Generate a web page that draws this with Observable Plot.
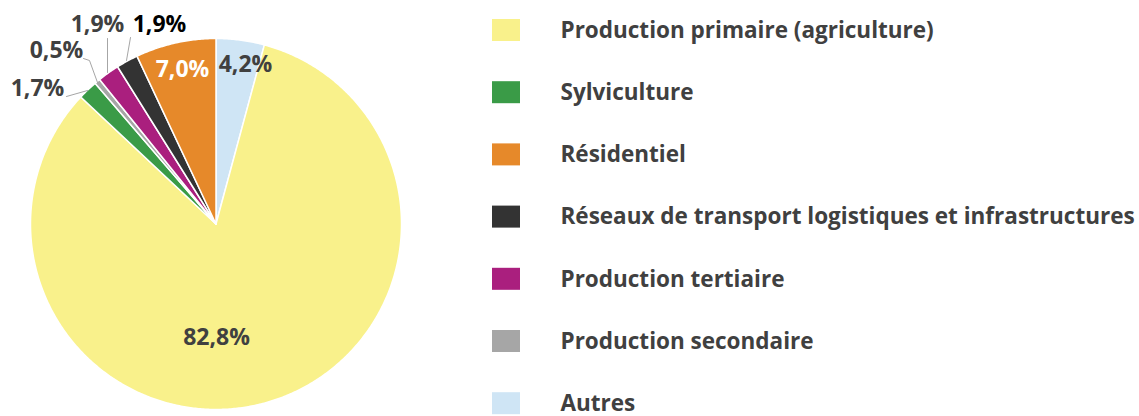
<!DOCTYPE html>
<html><head><meta charset="utf-8">
<script src="https://cdn.jsdelivr.net/npm/d3@7"></script>
<script src="https://cdn.jsdelivr.net/npm/@observablehq/plot@0.6"></script>
<style>
body{margin:0;background:#fff;}
#chart{width:1139px;height:416px;}
</style>
</head><body><div id="chart"></div>
<script>
// ---- data (clockwise from 12 o'clock) ----
const categories = ["Autres","Production primaire (agriculture)","Sylviculture","Production secondaire","Production tertiaire","Réseaux de transport logistiques et infrastructures","Résidentiel"];
const values = [4.2, 82.8, 1.7, 0.5, 1.9, 1.9, 7.0];
const colors = ["#CFE5F5","#F9F18B","#3A9B47","#A6A6A6","#AA1F7E","#333333","#E6892A"];
const legendOrder = ["Production primaire (agriculture)","Sylviculture","Résidentiel","Réseaux de transport logistiques et infrastructures","Production tertiaire","Production secondaire","Autres"];

// ---- layout ----
const W = 1139, H = 416, cx = 215.5, cy = 223.5, R = 185.5;
const ux = px => (px - cx) / R, uy = py => (cy - py) / R;
// label anchor (pixels), text colour, leader polyline (pixels)
const labelLayout = {
  "Autres": {x:245, y:64, color:"#404040"},
  "Production primaire (agriculture)": {x:216, y:337, color:"#404040"},
  "Sylviculture": {x:37, y:88, color:"#404040", leader:[[66,96],[87,90]]},
  "Production secondaire": {x:56, y:50, color:"#404040", leader:[[83,58],[89,60],[97,82]]},
  "Production tertiaire": {x:97, y:24, color:"#404040", leader:[[107,38],[107,72]]},
  "Réseaux de transport logistiques et infrastructures": {x:159, y:24, color:"#000000", leader:[[130,37],[126,60]]},
  "Résidentiel": {x:182, y:69, color:"#FFFFFF"}
};

// ---- wedge geometry from values ----
const total = d3.sum(values);
const wedgePts = [];
let acc = 0;
categories.forEach((name, i) => {
  const a0 = acc / total * 2 * Math.PI;
  acc += values[i];
  const a1 = acc / total * 2 * Math.PI;
  const n = Math.max(2, Math.ceil((a1 - a0) / (Math.PI / 360)));
  wedgePts.push({name, x: 0, y: 0});
  for (let k = 0; k <= n; k++) {
    const a = a0 + (a1 - a0) * k / n;
    wedgePts.push({name, x: Math.sin(a), y: Math.cos(a)});
  }
});

const labels = categories.map((name, i) => ({
  name,
  text: values[i].toFixed(1).replace(".", ",") + "%",
  x: ux(labelLayout[name].x), y: uy(labelLayout[name].y),
  color: labelLayout[name].color
}));
const leaders = [];
categories.forEach(name => {
  const l = labelLayout[name].leader;
  if (l) l.forEach(([px, py]) => leaders.push({name, x: ux(px), y: uy(py)}));
});

// legend rows
const legRows = legendOrder.map((name, i) => ({name, cy: 30 + i * 62.2}));

const plot = Plot.plot({
  width: W, height: H, margin: 0,
  style: {background: "#fff", overflow: "visible"},
  x: {domain: [-1, 1], range: [cx - R, cx + R], axis: null},
  y: {domain: [-1, 1], range: [cy + R, cy - R], axis: null},
  color: {domain: categories, range: colors},
  marks: [
    Plot.line(wedgePts, {x: "x", y: "y", z: "name", fill: "name", stroke: "white", strokeWidth: 1.5, strokeLinejoin: "round", curve: "linear-closed"}),
    Plot.line(leaders, {x: "x", y: "y", z: "name", stroke: "#A6A6A6", strokeWidth: 1}),
    Plot.text(labels, {x: "x", y: "y", text: "text", fill: d => d.color, fontSize: 23, fontWeight: "bold", fontFamily: "'Open Sans', sans-serif", textAnchor: "middle", lineAnchor: "middle"}),
    Plot.rect(legRows, {x1: () => ux(492), x2: () => ux(520), y1: d => uy(d.cy - 11), y2: d => uy(d.cy + 11), fill: "name"}),
    Plot.text(legRows, {x: () => ux(560), y: d => uy(d.cy), text: "name", fill: "#404040", fontSize: 22.5, fontWeight: "bold", fontFamily: "'Open Sans', sans-serif", textAnchor: "start", lineAnchor: "middle"})
  ]
});
document.getElementById("chart").appendChild(plot);
</script>
</body></html>
